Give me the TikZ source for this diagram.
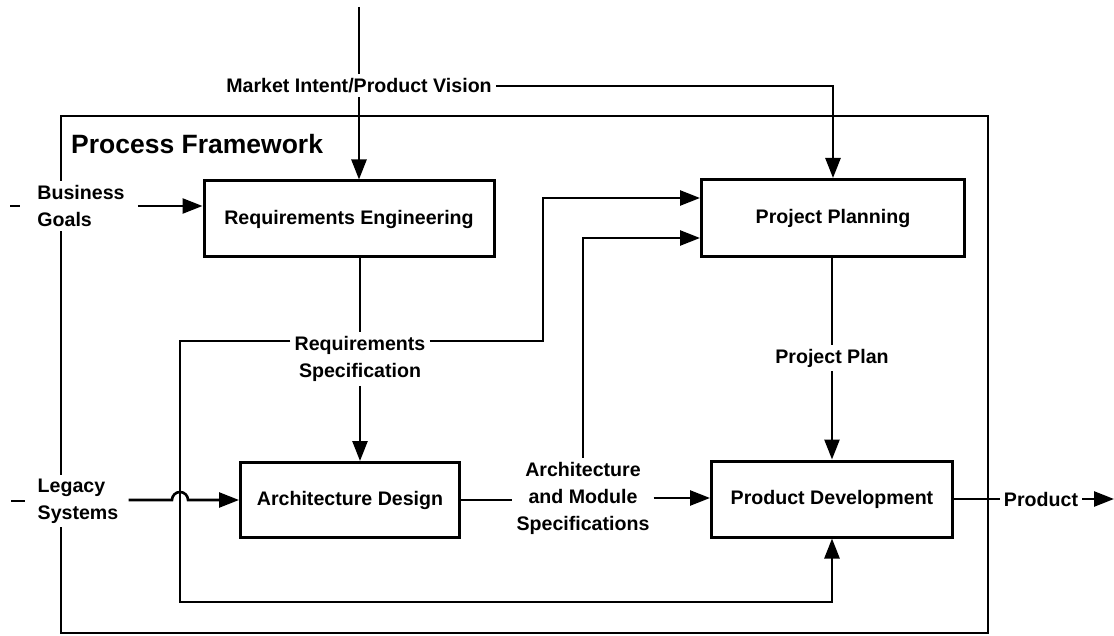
\documentclass[tikz,border=0pt]{standalone}
\usepackage{fontspec}
\setmainfont{Liberation Sans}
\usetikzlibrary{arrows.meta}

\tikzset{
  wire/.style={line width=2.6pt},
  feed/.style={wire, -{Triangle[length=20pt,width=15pt]}},
  activity/.style={draw, line width=3pt, inner sep=0pt},
  tag/.style={fill=white, inner sep=4pt, align=center},
}

\begin{document}
\begin{tikzpicture}[x=1pt, y=-1pt, font=\bfseries\fontsize{19.6}{27}\selectfont]
\useasboundingbox (0,0) rectangle (1114,636);

% frame round the whole process
\draw[wire] (61,116) rectangle (988,633);
\node[anchor=base west, inner sep=0pt, font=\bfseries\fontsize{26.5}{30}\selectfont] (pf) at (71,154) {Process Framework};

% activities
\node[activity, minimum width=290pt, minimum height=76pt] (req) at (349,219) {Requirements Engineering};
\node[activity, minimum width=263pt, minimum height=77pt] (plan) at (833,218) {Project Planning};
\node[activity, minimum width=219pt, minimum height=75pt] (arch) at (350,500) {Architecture Design};
\node[activity, minimum width=241pt, minimum height=76pt] (dev) at (832,499) {Product Development};

% what flows between them
\node[tag] (vision) at (359,86) {Market Intent/Product Vision};
\node[tag] (reqspec) at (360,359) {Requirements\\Specification};
\node[tag] (planout) at (832,358) {Project Plan};
\node[tag] (modspec) at (583,498) {Architecture\\and Module\\Specifications};
\node[tag] (product) at (1041,499) {Product};
\node[tag, align=left] (goals) at (81,206) {Business\\Goals};
\node[tag, align=left] (legacy) at (78,501) {Legacy\\Systems};

\coordinate (top) at (359,7);
\coordinate (fbl) at (180,341);
\coordinate (fbr) at (543,341);
\coordinate (loop) at (180,602);
\coordinate (out) at (1114,499);

% inputs
\draw[wire] (top) -- (vision);
\draw[feed] (vision) -- (vision |- req.north);
\draw[feed] (vision.east) -| (plan.north);
\draw[wire] ([xshift=-23pt]goals.west) -- ++(10,0);
\draw[feed] ([xshift=9pt]goals.east) -- (goals.east -| req.west);
\draw[wire] ([xshift=-22pt]legacy.west) -- ++(14,0);
\draw[feed] ([xshift=6pt]legacy.east |- arch.west) -- ([xshift=-8pt]fbl |- arch.west)
  arc[start angle=180, end angle=0, radius=8pt] -- (arch.west);

% requirements out
\draw[wire] (req.south -| reqspec) -- (reqspec);
\draw[feed] (reqspec) -- (reqspec |- arch.north);
\draw[feed] (reqspec.west |- fbl) -- (fbl) -- (loop) -| (dev.south);
\draw[feed] (reqspec.east |- fbr) -- (fbr) |- ([yshift=20pt]plan.west);

% architecture out
\draw[wire] (arch.east) -- (arch.east -| modspec.west);
\draw[feed] (modspec) |- ([yshift=-20pt]plan.west);
\draw[feed] (modspec.east) -- (modspec.east -| dev.west);

% plan and product
\draw[wire] (plan.south -| planout) -- (planout);
\draw[feed] (planout) -- (planout |- dev.north);
\draw[wire] (dev.east) -- (dev.east -| product.west);
\draw[feed] (product.east) -- (out);
\end{tikzpicture}
\end{document}
